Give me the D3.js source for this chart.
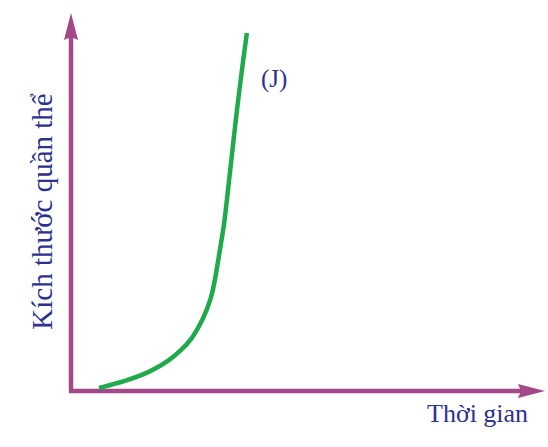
<!DOCTYPE html>
<html>
<head>
<meta charset="utf-8">
<script src="https://cdn.jsdelivr.net/npm/d3@7"></script>
<style>
html,body{margin:0;padding:0;background:#fff;}
svg{display:block;}
</style>
</head>
<body>
<svg id="chart" width="548" height="447"></svg>
<script>
// Data (time vs population size, arbitrary units 0..100)
const timeValues = [5.9, 11.4, 16.7, 20.9, 23.2, 25.4, 27.8, 29.5, 30.4, 31.4, 32.3, 32.9, 35.2, 37.1];
const sizeValues = [0.8, 2.6, 5.0, 8.2, 10.8, 13.5, 18.8, 24.1, 29.4, 37.3, 43.9, 50.5, 77.0, 94.7];
const xLabel = "Thời gian";
const yLabel = "Kích thước quần thể";
const curveLabel = "(J)";

const svg = d3.select("#chart");
const x = d3.scaleLinear().domain([0, 100]).range([71, 545]);
const y = d3.scaleLinear().domain([0, 100]).range([391, 13]);

const axisColor = "#a3488a";
const textColor = "#2e3192";
const curveColor = "#1faa4b";
const headLen = 27, headHalf = 7, notch = 3;

// Axis lines
svg.append("line")
  .attr("x1", x(0)).attr("y1", y(0))
  .attr("x2", x(0)).attr("y2", y(100) + headLen - notch)
  .attr("stroke", axisColor).attr("stroke-width", 4.5);
svg.append("line")
  .attr("x1", x(0) - 2).attr("y1", y(0))
  .attr("x2", x(100) - headLen + notch).attr("y2", y(0))
  .attr("stroke", axisColor).attr("stroke-width", 4.5);

// Arrowheads
function arrow(tx, ty, angle) {
  const p = d3.path();
  p.moveTo(0, 0);
  p.lineTo(-headLen, -headHalf);
  p.lineTo(-headLen + notch, 0);
  p.lineTo(-headLen, headHalf);
  p.closePath();
  svg.append("path").attr("d", p.toString())
    .attr("fill", axisColor)
    .attr("transform", `translate(${tx},${ty}) rotate(${angle})`);
}
arrow(x(100), y(0), 0);
arrow(x(0), y(100), -90);

// Curve
const pts = timeValues.map((t, i) => [t, sizeValues[i]]);
const line = d3.line().x(d => x(d[0])).y(d => y(d[1])).curve(d3.curveBasis);
svg.append("path").datum(pts)
  .attr("d", line)
  .attr("fill", "none")
  .attr("stroke", curveColor)
  .attr("stroke-width", 4.5)
  .attr("stroke-linecap", "butt");

// Labels
const font = "'Liberation Serif', 'Times New Roman', serif";
svg.append("text")
  .attr("transform", "translate(52,211.5) rotate(-90)")
  .attr("text-anchor", "middle")
  .attr("font-family", font).attr("font-size", 29)
  .attr("fill", textColor)
  .text(yLabel);
svg.append("text")
  .attr("x", 427).attr("y", 422)
  .attr("font-family", font).attr("font-size", 26)
  .attr("fill", textColor)
  .text(xLabel);
svg.append("text")
  .attr("x", 261).attr("y", 87)
  .attr("font-family", font).attr("font-size", 25)
  .attr("fill", textColor)
  .text(curveLabel);
</script>
</body>
</html>
